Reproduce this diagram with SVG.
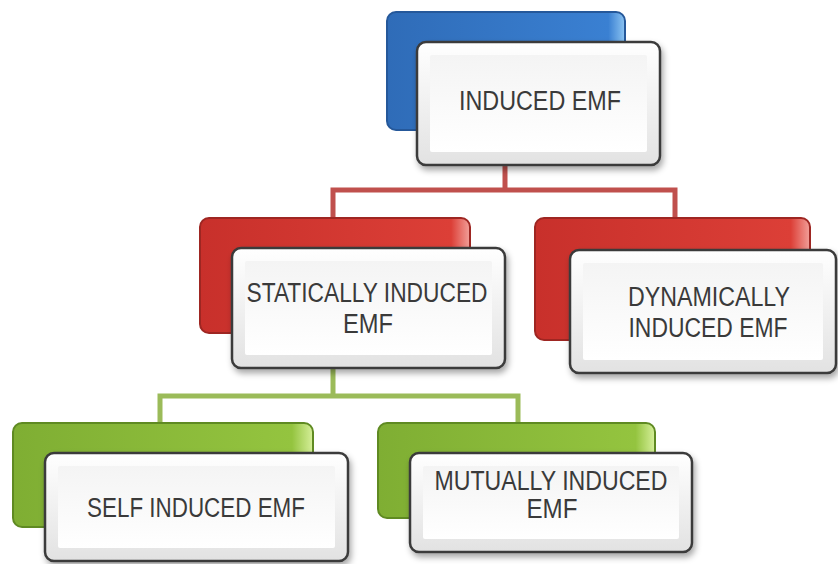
<svg xmlns="http://www.w3.org/2000/svg" width="838" height="564" viewBox="0 0 838 564">
<defs>
<linearGradient id="wg" x1="0" y1="0" x2="0" y2="1"><stop offset="0" stop-color="#ffffff"/><stop offset="1" stop-color="#e2e2e2"/></linearGradient>
<linearGradient id="wi" x1="0" y1="0" x2="0" y2="1"><stop offset="0" stop-color="#f4f4f4"/><stop offset="1" stop-color="#ffffff"/></linearGradient>
<linearGradient id="bg" x1="0" y1="0" x2="1" y2="0"><stop offset="0" stop-color="#2f6cb8"/><stop offset="0.93" stop-color="#3a80d2"/><stop offset="1" stop-color="#8cc4f2"/></linearGradient>
<linearGradient id="rg" x1="0" y1="0" x2="1" y2="0"><stop offset="0" stop-color="#c8302b"/><stop offset="0.93" stop-color="#dc3f37"/><stop offset="1" stop-color="#f2a09a"/></linearGradient>
<linearGradient id="gg" x1="0" y1="0" x2="1" y2="0"><stop offset="0" stop-color="#7fae33"/><stop offset="0.93" stop-color="#94c43f"/><stop offset="1" stop-color="#d6ef9a"/></linearGradient>
<filter id="sh" x="-10%" y="-10%" width="125%" height="130%"><feDropShadow dx="2" dy="4" stdDeviation="3" flood-color="#000" flood-opacity="0.35"/></filter>
</defs>
<style>
.back{stroke-width:2}
.blue{fill:url(#bg);stroke:#25589a}
.red{fill:url(#rg);stroke:#9e2622}
.green{fill:url(#gg);stroke:#5f8a22}
.front{fill:url(#wg);stroke:#3a3a3a;stroke-width:2.5}
.inner{fill:url(#wi);stroke:none}
.lbl{font-family:"Liberation Sans",Arial,sans-serif;font-size:27px;fill:#3a3a3a;text-anchor:middle}
.cr{fill:none;stroke:#c0504d;stroke-width:5}
.cg{fill:none;stroke:#9bbb59;stroke-width:5}
</style>
<g id="connectors">
<path class="cr" d="M505,165 V190 M333,220 V190 H675 V220"/>
<path class="cg" d="M333,368 V396 M160,425 V396 H518 V425"/>
</g>
<g id="n-induced">
<rect class="back blue" x="387" y="12" width="238" height="118" rx="9"/>
<rect class="front" x="417" y="42" width="243" height="123" rx="9" filter="url(#sh)"/>
<rect class="inner" x="430" y="55" width="217" height="97" rx="2"/>
<text class="lbl" x="540" y="110" textLength="162" lengthAdjust="spacingAndGlyphs">INDUCED EMF</text>
</g>
<g id="n-static">
<rect class="back red" x="200" y="218" width="270" height="115" rx="9"/>
<rect class="front" x="232" y="248" width="273" height="120" rx="9" filter="url(#sh)"/>
<rect class="inner" x="245" y="261" width="247" height="94" rx="2"/>
<text class="lbl" x="367" y="302" textLength="241" lengthAdjust="spacingAndGlyphs">STATICALLY INDUCED</text>
<text class="lbl" x="368" y="333" textLength="50" lengthAdjust="spacingAndGlyphs">EMF</text>
</g>
<g id="n-dynamic">
<rect class="back red" x="535" y="218" width="275" height="122" rx="9"/>
<rect class="front" x="570" y="250" width="266" height="123" rx="9" filter="url(#sh)"/>
<rect class="inner" x="583" y="263" width="240" height="97" rx="2"/>
<text class="lbl" x="709" y="306" textLength="162" lengthAdjust="spacingAndGlyphs">DYNAMICALLY</text>
<text class="lbl" x="708" y="337" textLength="159" lengthAdjust="spacingAndGlyphs">INDUCED EMF</text>
</g>
<g id="n-self">
<rect class="back green" x="13" y="423" width="300" height="104" rx="9"/>
<rect class="front" x="45" y="453" width="303" height="108" rx="9" filter="url(#sh)"/>
<rect class="inner" x="58" y="466" width="277" height="82" rx="2"/>
<text class="lbl" x="196" y="517" textLength="218" lengthAdjust="spacingAndGlyphs">SELF INDUCED EMF</text>
</g>
<g id="n-mutual">
<rect class="back green" x="378" y="423" width="277" height="95" rx="9"/>
<rect class="front" x="410" y="453" width="282" height="99" rx="9" filter="url(#sh)"/>
<rect class="inner" x="423" y="466" width="256" height="73" rx="2"/>
<text class="lbl" x="551" y="490" textLength="233" lengthAdjust="spacingAndGlyphs">MUTUALLY INDUCED</text>
<text class="lbl" x="552" y="518" textLength="51" lengthAdjust="spacingAndGlyphs">EMF</text>
</g>
</svg>
